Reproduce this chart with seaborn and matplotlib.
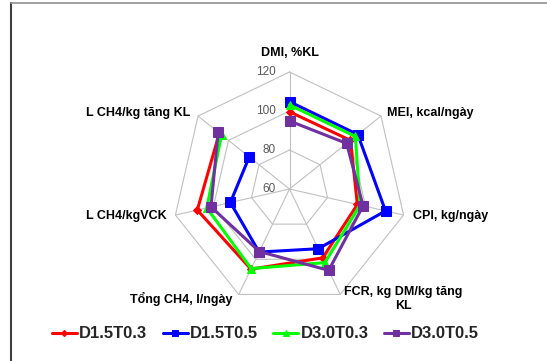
import numpy as np
import pandas as pd
import matplotlib.pyplot as plt
import seaborn as sns

### DATA ###
categories = ['DMI, %KL', 'MEI, kcal/ngày', 'CPI, kg/ngày', 'FCR, kg DM/kg tăng\nKL',
              'Tổng CH4, l/ngày', 'L CH4/kgVCK', 'L CH4/kg tăng KL']
series_names = ['D1.5T0.3', 'D1.5T0.5', 'D3.0T0.3', 'D3.0T0.5']
d15t03 = [99.6, 100.0, 95.7, 99.2, 105.6, 108.5, 106.0]
d15t05 = [104.8, 104.8, 110.5, 94.0, 95.9, 91.1, 86.4]
d30t03 = [103.1, 103.2, 97.1, 101.9, 105.3, 103.5, 104.6]
d30t05 = [94.9, 97.5, 98.7, 106.3, 95.6, 101.3, 106.8]
ring_ticks = [60, 80, 100, 120]

### STYLE ###
sns.set_style('white')
plt.rcParams['font.family'] = ['Liberation Sans', 'DejaVu Sans']

colors = ['#ff0000', '#0000ff', '#00ff00', '#7030a0']
markers = ['D', 's', '^', 's']
msizes = [4.5, 6.5, 6, 6.5]

r_min, r_max = ring_ticks[0], ring_ticks[-1]
n = len(categories)
angles = np.arange(n) * 2 * np.pi / n


def to_xy(vals):
    r = np.asarray(vals, dtype=float) - r_min
    x = r * np.sin(angles)
    y = r * np.cos(angles)
    return np.append(x, x[0]), np.append(y, y[0])


W, H = 547, 361
fig = plt.figure(figsize=(W / 100, H / 100), dpi=100)
# centre at (289.5, 189) px, 117 px for the 60..120 range
scale = 117 / (r_max - r_min)
half = 75
ax = fig.add_axes([(289.5 - half * scale) / W, (H - 189 - half * scale) / H,
                   2 * half * scale / W, 2 * half * scale / H])
ax.set_xlim(-half, half)
ax.set_ylim(-half, half)

## grid: heptagon rings + spokes
grid_col = '#c0c0c0'
for t in ring_ticks[1:]:
    gx, gy = to_xy([t] * n)
    ax.plot(gx, gy, color=grid_col, lw=0.8, zorder=1)
ox, oy = to_xy([r_max] * n)
for i in range(n):
    ax.plot([0, ox[i]], [0, oy[i]], color=grid_col, lw=0.8, zorder=1)

## series
handles = []
for name, vals, c, m, ms in zip(series_names, [d15t03, d15t05, d30t03, d30t05], colors, markers, msizes):
    x, y = to_xy(vals)
    df = pd.DataFrame({'x': x, 'y': y})
    sns.lineplot(data=df, x='x', y='y', sort=False, color=c, lw=2.2, marker=m,
                 markersize=ms, markeredgecolor=c, ax=ax, zorder=3)
    handles.append(ax.lines[-1])
ax.axis('off')

## radial tick labels
for t in ring_ticks:
    ax.annotate(str(t), xy=(0, t - r_min), xytext=(-13.5 * 0.72, 0), textcoords='offset points',
                ha='right', va='center', fontsize=8.5, color='#595959')

## category labels (offsets in px from the outer vertex)
offsets = [(0, 13), (6, 3), (9, -1), (4, 8), (-6, -5), (-9, -1), (-8, 3)]
has = ['center', 'left', 'left', 'left', 'right', 'right', 'right']
vas = ['bottom', 'center', 'center', 'top', 'center', 'center', 'center']
for i, lab in enumerate(categories):
    ax.annotate(lab, xy=(ox[i], oy[i]), xytext=(offsets[i][0] * 0.72, offsets[i][1] * 0.72),
                textcoords='offset points', ha=has[i], va=vas[i], multialignment='center',
                fontsize=9, fontweight='bold', color='black')

## legend
fig.legend(handles, series_names, loc='center', bbox_to_anchor=(265.5 / W, 27 / H), ncol=4,
           frameon=False, handlelength=1.5, handletextpad=0.15, columnspacing=0.9,
           markerscale=0.7, prop={'weight': 'bold', 'size': 12})

## chart border
fig.add_artist(plt.Line2D([11 / W, 11 / W], [0, 1 - 3 / H], transform=fig.transFigure,
                          color='#404040', lw=1.5))
fig.add_artist(plt.Line2D([11 / W, 1], [1 - 3 / H, 1 - 3 / H], transform=fig.transFigure,
                          color='#909090', lw=1.2))

fig.savefig('out.png', dpi=100)
